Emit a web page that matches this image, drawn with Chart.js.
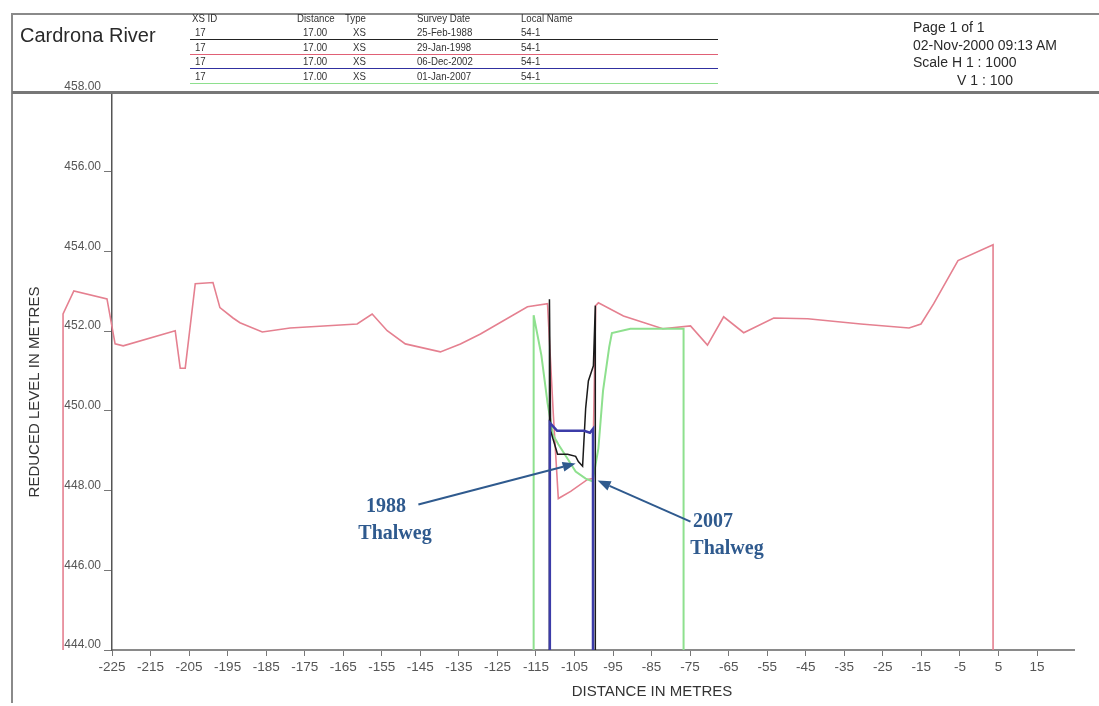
<!DOCTYPE html>
<html><head><meta charset="utf-8">
<script src="https://cdn.jsdelivr.net/npm/chart.js@4.4.1/dist/chart.umd.min.js"></script>
<style>
html,body{margin:0;padding:0;background:#fff;}
#wrap{position:relative;width:1099px;height:706px;overflow:hidden;font-family:"Liberation Sans",Arial,sans-serif;}
canvas{position:absolute;left:0;top:0;}
.t{position:absolute;white-space:nowrap;color:#2a2a2a;line-height:1;}
.sm{font-size:11.5px;color:#333;transform:scaleX(0.84);transform-origin:0 0;}
.hl{position:absolute;height:1px;left:190px;width:528px;}
.frame{position:absolute;background:#8a8a8a;}
</style></head>
<body><div id="wrap">
<canvas id="c" width="1099" height="706"></canvas>
<div class="frame" style="left:12px;top:13px;width:1087px;height:2px;"></div>
<div class="frame" style="left:11px;top:13px;width:2px;height:690px;"></div>
<div class="frame" style="left:12px;top:91px;width:1087px;height:3px;background:#777;"></div>
<div class="t" style="left:20px;top:25px;font-size:20px;">Cardrona River</div>
<div class="t sm" style="left:192px;top:13px;">XS ID</div>
<div class="t sm" style="left:297px;top:13px;">Distance</div>
<div class="t sm" style="left:345px;top:13px;">Type</div>
<div class="t sm" style="left:417px;top:13px;">Survey Date</div>
<div class="t sm" style="left:521px;top:13px;">Local Name</div>
<div id="rows"></div>
<div class="t" style="left:913px;top:20px;font-size:14px;">Page 1 of 1</div>
<div class="t" style="left:913px;top:38px;font-size:14px;">02-Nov-2000 09:13 AM</div>
<div class="t" style="left:913px;top:55px;font-size:14px;">Scale H 1 : 1000</div>
<div class="t" style="left:957px;top:73px;font-size:14px;">V 1 : 100</div>
</div>
<script>
// ---- data ----
const surveyDates = ["25-Feb-1988", "29-Jan-1998", "06-Dec-2002", "01-Jan-2007"];
const seriesColors = ["#1a1a1a", "#e58090", "#3c3ca8", "#8ee08e"];

const x1988 = [-111.5, -111.5, -111.2, -109.4, -106.8, -104.7, -104.0, -102.9, -102.1, -101.4, -100.1, -99.6, -99.6];
const y1988 = [444, 452.8, 449.5, 448.91, 448.91, 448.86, 448.73, 448.61, 450.07, 450.75, 451.13, 452.64, 444];

const x1998 = [-237.7, -237.7, -234.9, -226.3, -224.2, -222.1, -208.6, -207.3, -206.0, -203.4, -198.8, -197.0, -193.6, -191.8, -186.0, -178.8, -161.4, -157.5, -153.6, -148.9, -139.8, -134.6, -129.4, -117.2, -112.0, -110.5, -109.2, -106.0, -101.6, -100.3, -99.5, -98.8, -92.3, -82.1, -74.9, -70.5, -66.3, -61.1, -53.3, -44.5, -30.7, -18.2, -15.1, -11.8, -5.5, 3.6, 3.6];
const y1998 = [444, 452.43, 453.01, 452.81, 451.68, 451.63, 452.01, 451.07, 451.07, 453.19, 453.22, 452.59, 452.33, 452.21, 451.98, 452.08, 452.18, 452.43, 452.01, 451.68, 451.48, 451.68, 451.93, 452.61, 452.69, 449.92, 447.80, 447.98, 448.28, 448.30, 452.64, 452.71, 452.38, 452.06, 452.13, 451.65, 452.36, 451.96, 452.33, 452.31, 452.18, 452.08, 452.18, 452.69, 453.77, 454.17, 444];

const x2002 = [-111.4, -111.4, -109.5, -102.5, -101.0, -100.2, -100.2];
const y2002 = [444, 449.7, 449.5, 449.5, 449.45, 449.55, 444];

const x2007 = [-115.6, -115.6, -113.6, -112.0, -110.6, -109.2, -106.8, -104.7, -102.1, -100.3, -98.8, -97.6, -96.0, -95.3, -90.5, -76.7, -76.7];
const y2007 = [444, 452.4, 451.4, 450.2, 449.4, 449.16, 448.8, 448.48, 448.3, 448.23, 449.06, 450.5, 451.6, 451.95, 452.06, 452.06, 444];

const xTicks = [-225, -215, -205, -195, -185, -175, -165, -155, -145, -135, -125, -115, -105, -95, -85, -75, -65, -55, -45, -35, -25, -15, -5, 5, 15];
const yTicks = [444, 446, 448, 450, 452, 454, 456, 458];
const xRange = [-225, 24.6];

const thalweg1988 = {label: ["1988", "Thalweg"], tail: [-145.5, 447.65], tip: [-104.7, 448.68]};
const thalweg2007 = {label: ["2007", "Thalweg"], tail: [-74.9, 447.22], tip: [-99.0, 448.25]};

// ---- header table rows ----
(function(){
  const rows = document.getElementById('rows');
  const rowTop = [27, 42, 56, 71];
  const lineY = [39, 54, 68, 83];
  surveyDates.forEach((d, i) => {
    const cells = [["17",195],["17.00",303],["XS",353],[d,417],["54-1",521]];
    cells.forEach(([txt, x]) => {
      const el = document.createElement('div');
      el.className = 't sm'; el.style.left = x + 'px'; el.style.top = rowTop[i] + 'px';
      el.textContent = txt; rows.appendChild(el);
    });
    const ln = document.createElement('div');
    ln.className = 'hl'; ln.style.top = lineY[i] + 'px';
    ln.style.background = ["#222", "#e06075", "#3030a0", "#8ee08e"][i];
    rows.appendChild(ln);
  });
})();

const toPts = (xs, ys) => xs.map((x, i) => ({x: x, y: ys[i]}));

const overlay = {
  id: 'overlay',
  afterDraw(chart) {
    const ctx = chart.ctx, xs = chart.scales.x, ys = chart.scales.y;
    ctx.save();
    ctx.fillStyle = '#333';
    ctx.font = '15px "Liberation Sans", Arial, sans-serif';
    ctx.textAlign = 'center'; ctx.textBaseline = 'middle';
    ctx.fillText('DISTANCE IN METRES', 652, 692);
    ctx.save();
    ctx.translate(35, 392); ctx.rotate(-Math.PI / 2);
    ctx.fillText('REDUCED LEVEL IN METRES', 0, 0);
    ctx.restore();
    const blue = '#2f5a8e';
    const arrow = (a) => {
      const x0 = xs.getPixelForValue(a.tail[0]), y0 = ys.getPixelForValue(a.tail[1]);
      const x1 = xs.getPixelForValue(a.tip[0]), y1 = ys.getPixelForValue(a.tip[1]);
      const ang = Math.atan2(y1 - y0, x1 - x0), L = 13, W = 5;
      const bx = x1 - L * Math.cos(ang), by = y1 - L * Math.sin(ang);
      ctx.strokeStyle = blue; ctx.fillStyle = blue; ctx.lineWidth = 2;
      ctx.beginPath(); ctx.moveTo(x0, y0); ctx.lineTo(bx, by); ctx.stroke();
      ctx.beginPath(); ctx.moveTo(x1, y1);
      ctx.lineTo(bx + W * Math.sin(ang), by - W * Math.cos(ang));
      ctx.lineTo(bx - W * Math.sin(ang), by + W * Math.cos(ang));
      ctx.closePath(); ctx.fill();
    };
    arrow(thalweg1988); arrow(thalweg2007);
    ctx.fillStyle = blue;
    ctx.font = 'bold 20px "Liberation Serif", "Times New Roman", serif';
    ctx.fillText(thalweg1988.label[0], 386, 507);
    ctx.fillText(thalweg1988.label[1], 395, 534);
    ctx.fillText(thalweg2007.label[0], 713, 522);
    ctx.fillText(thalweg2007.label[1], 727, 549);
    ctx.restore();
  }
};

const ds = (label, xs, ys, color, width, order) => ({
  label, data: toPts(xs, ys), borderColor: color, borderWidth: width,
  showLine: true, pointRadius: 0, tension: 0, fill: false, clip: false, order
});

new Chart(document.getElementById('c'), {
  type: 'scatter',
  data: {
    datasets: [
      ds(surveyDates[0], x1988, y1988, seriesColors[0], 1.5, 1),
      ds(surveyDates[2], x2002, y2002, seriesColors[2], 2.5, 0),
      ds(surveyDates[3], x2007, y2007, seriesColors[3], 2, 2),
      ds(surveyDates[1], x1998, y1998, seriesColors[1], 1.6, 3)
    ]
  },
  options: {
    responsive: false, animation: false, devicePixelRatio: 1,
    layout: {padding: {left: 12, top: 92, right: 25, bottom: 0}},
    plugins: {legend: {display: false}, tooltip: {enabled: false}},
    scales: {
      x: {
        type: 'linear', bounds: 'data',
        afterDataLimits: s => { s.min = xRange[0]; s.max = xRange[1]; },
        afterBuildTicks: s => { s.ticks = xTicks.map(v => ({value: v})); s.min = xRange[0]; s.max = xRange[1]; },
        afterFit: s => { s.height = 56; },
        ticks: {callback: v => String(v), autoSkip: false, maxRotation: 0, padding: 3,
                color: '#555', font: {family: '"Liberation Sans", Arial, sans-serif', size: 13.5}},
        grid: {drawOnChartArea: false, drawTicks: true, tickLength: 6, color: '#777'},
        border: {display: true, color: '#8a8a8a', width: 2}
      },
      y: {
        type: 'linear', min: 444, max: 458,
        afterBuildTicks: s => { s.ticks = yTicks.map(v => ({value: v})); },
        afterFit: s => { s.width = 100; },
        ticks: {callback: v => Number(v).toFixed(2), autoSkip: false, padding: 3, labelOffset: -5,
                color: '#555', font: {family: '"Liberation Sans", Arial, sans-serif', size: 12}},
        grid: {drawOnChartArea: false, drawTicks: true, tickLength: 8, color: '#777'},
        border: {display: true, color: '#555', width: 1.5}
      }
    }
  },
  plugins: [overlay]
});
</script>
</body></html>
